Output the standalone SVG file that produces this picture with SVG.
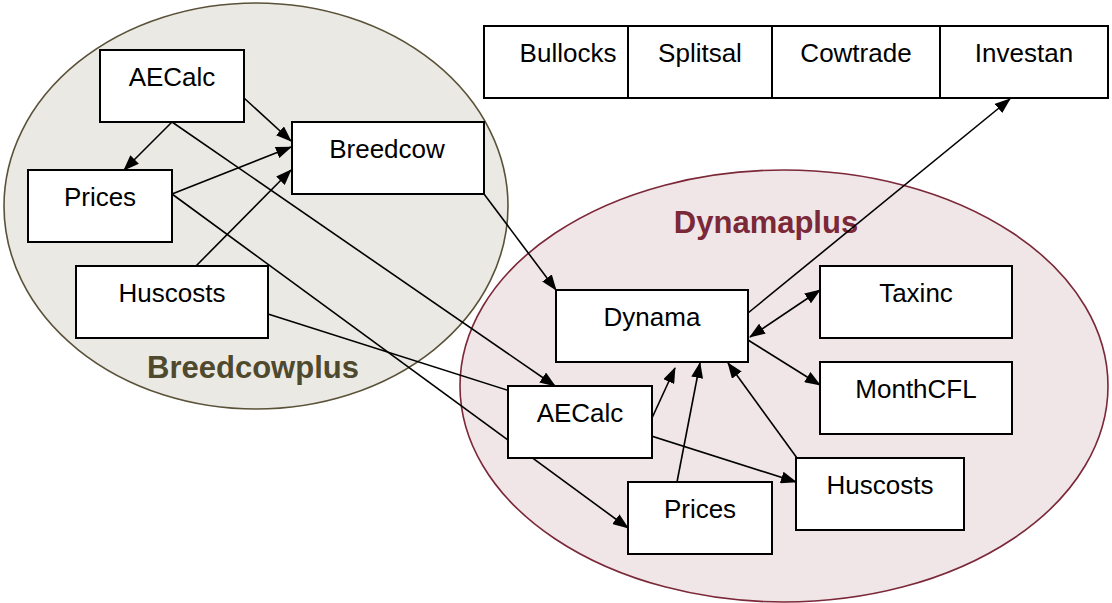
<svg xmlns="http://www.w3.org/2000/svg" width="1112" height="603" viewBox="0 0 1112 603">
<style>
.box{fill:#fff;stroke:#000;stroke-width:2}
.t{font-family:"Liberation Sans",Arial,sans-serif;font-size:26px;fill:#000;text-anchor:middle}
.c{stroke:#000;stroke-width:1.6;fill:none}
.lbl{font-family:"Liberation Sans",Arial,sans-serif;font-size:31px;font-weight:bold;text-anchor:middle}
</style>
<defs>
<marker id="ah" markerUnits="userSpaceOnUse" markerWidth="16" markerHeight="12" refX="15" refY="6" orient="auto-start-reverse">
<path d="M0,0 L16,6 L0,12 Z" fill="#000"/>
</marker>
</defs>
<rect width="1112" height="603" fill="#fff"/>
<g id="breedcowplus">
<ellipse cx="256" cy="206" rx="252" ry="203" fill="#ebe9e4" stroke="#5a5238" stroke-width="1.6"/>
<text class="lbl" x="253" y="378" fill="#4f4a2e">Breedcowplus</text>
</g>
<g id="dynamaplus">
<ellipse cx="784" cy="386" rx="324" ry="216" fill="#f0e6e7" stroke="#7b2838" stroke-width="1.6"/>
<text class="lbl" x="766" y="233" fill="#7b2838">Dynamaplus</text>
</g>
<g id="connectors">
<line class="c" x1="244" y1="98" x2="291" y2="141" marker-end="url(#ah)"/>
<line class="c" x1="172" y1="122" x2="124" y2="170" marker-end="url(#ah)"/>
<line class="c" x1="172" y1="122" x2="555" y2="386" marker-end="url(#ah)"/>
<line class="c" x1="172" y1="194" x2="291" y2="147" marker-end="url(#ah)"/>
<line class="c" x1="172" y1="194" x2="628" y2="528" marker-end="url(#ah)"/>
<line class="c" x1="196" y1="266" x2="291" y2="170" marker-end="url(#ah)"/>
<line class="c" x1="268" y1="314" x2="796" y2="482" marker-end="url(#ah)"/>
<line class="c" x1="484" y1="194" x2="556" y2="290" marker-end="url(#ah)"/>
<line class="c" x1="748" y1="313" x2="1010" y2="99" marker-end="url(#ah)"/>
<line class="c" x1="750" y1="337" x2="820" y2="290" marker-start="url(#ah)" marker-end="url(#ah)"/>
<line class="c" x1="748" y1="340" x2="820" y2="385" marker-end="url(#ah)"/>
<line class="c" x1="652" y1="418" x2="675" y2="368" marker-end="url(#ah)"/>
<line class="c" x1="677" y1="482" x2="700" y2="363" marker-end="url(#ah)"/>
<line class="c" x1="797" y1="458" x2="728" y2="363" marker-end="url(#ah)"/>
</g>
<g id="aecalc-left"><rect class="box" x="100" y="50" width="144" height="72"/><text class="t" x="172" y="86">AECalc</text></g>
<g id="breedcow"><rect class="box" x="292" y="122" width="192" height="72"/><text class="t" x="387" y="158">Breedcow</text></g>
<g id="prices-left"><rect class="box" x="28" y="170" width="144" height="72"/><text class="t" x="100" y="206">Prices</text></g>
<g id="huscosts-left"><rect class="box" x="76" y="266" width="192" height="72"/><text class="t" x="172" y="302">Huscosts</text></g>
<g id="topbar">
<rect class="box" x="484" y="26" width="624" height="72"/>
<line x1="628" y1="26" x2="628" y2="98" stroke="#000" stroke-width="2"/>
<line x1="772" y1="26" x2="772" y2="98" stroke="#000" stroke-width="2"/>
<line x1="940" y1="26" x2="940" y2="98" stroke="#000" stroke-width="2"/>
</g>
<g id="bullocks"><text class="t" x="568" y="62">Bullocks</text></g>
<g id="splitsal"><text class="t" x="700" y="62">Splitsal</text></g>
<g id="cowtrade"><text class="t" x="856" y="62">Cowtrade</text></g>
<g id="investan"><text class="t" x="1024" y="62">Investan</text></g>
<g id="dynama"><rect class="box" x="556" y="290" width="192" height="72"/><text class="t" x="652" y="326">Dynama</text></g>
<g id="taxinc"><rect class="box" x="820" y="266" width="192" height="72"/><text class="t" x="916" y="302">Taxinc</text></g>
<g id="monthcfl"><rect class="box" x="820" y="362" width="192" height="72"/><text class="t" x="916" y="398">MonthCFL</text></g>
<g id="aecalc-right"><rect class="box" x="508" y="386" width="144" height="72"/><text class="t" x="580" y="422">AECalc</text></g>
<g id="huscosts-right"><rect class="box" x="796" y="458" width="168" height="72"/><text class="t" x="880" y="494">Huscosts</text></g>
<g id="prices-right"><rect class="box" x="628" y="482" width="144" height="72"/><text class="t" x="700" y="518">Prices</text></g>
</svg>
